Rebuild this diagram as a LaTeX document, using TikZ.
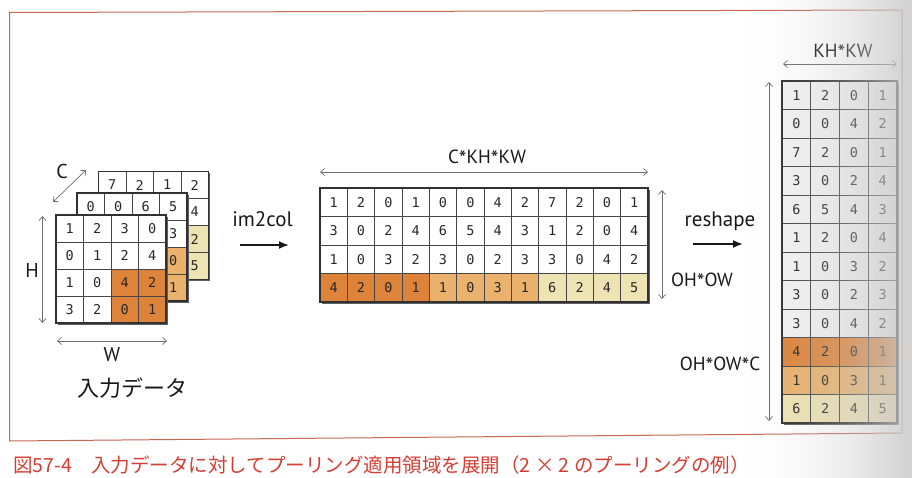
\documentclass[tikz,border=0pt]{standalone}
\usepackage{fontspec}
\setmainfont{PT Sans}
\newfontfamily\monof{DejaVu Sans Mono}
\newfontfamily\jpf{Noto Sans CJK JP}
\usetikzlibrary{arrows.meta,calc}

\definecolor{oa}{RGB}{222,132,58}
\definecolor{ob}{RGB}{234,178,108}
\definecolor{oc}{RGB}{238,227,178}
\definecolor{wc}{RGB}{255,255,255}
\definecolor{rg}{RGB}{242,242,242}
\definecolor{cellline}{RGB}{70,70,70}
\definecolor{digit}{RGB}{40,40,40}
\definecolor{dimc}{RGB}{110,110,110}
\definecolor{framec}{RGB}{196,104,84}
\definecolor{capc}{RGB}{212,62,52}
\definecolor{curl}{RGB}{200,200,200}
\definecolor{shadowc}{RGB}{95,95,95}
\definecolor{labc}{RGB}{25,25,25}

\newcommand\mystar{\raisebox{-0.3ex}{\fontsize{22}{22}\selectfont *}}

% #1 name, #2 x0, #3 y0, #4 ncols, #5 nrows, #6 cell w, #7 cell h, #8 list value/colour
\newcommand\cellgrid[8]{%
  \fill[shadowc] ({#2+1.8},{#3+1.8}) rectangle ++({#4*#6},{#5*#7});
  \foreach \vv/\fc [count=\ci from 0] in {#8}{%
    \pgfmathtruncatemacro\gr{floor(\ci/#4)}%
    \pgfmathtruncatemacro\gk{\ci-\gr*#4}%
    \node[cellbox, fill=\fc, minimum width=#6pt, minimum height=#7pt]
      (#1-\gr-\gk) at ({#2+(\gk+0.5)*#6},{#3+(\gr+0.5)*#7}) {\vv};
  }%
  \draw[outerbox] (#2,#3) rectangle ++({#4*#6},{#5*#7});
}

\begin{document}
\begin{tikzpicture}[x=1pt,y=-1pt,
  cellbox/.style={draw=cellline, line width=0.7pt, inner sep=0pt,
    font=\monof\fontsize{13.5}{13.5}\selectfont, text=digit},
  outerbox/.style={draw=cellline!70!black, line width=1.2pt},
  dimarrow/.style={draw=dimc, line width=0.7pt,
    {Straight Barb[length=4pt,width=7pt]}-{Straight Barb[length=4pt,width=7pt]}},
  bigarrow/.style={draw=labc, line width=1.8pt, -{Latex[length=10pt,width=8pt]}},
  lab/.style={inner sep=0pt, text=labc, font=\fontsize{19}{19}\selectfont},
  oplab/.style={inner sep=0pt, text=labc, font=\fontsize{21}{21}\selectfont},
  jplab/.style={inner sep=0pt, text=labc, font=\jpf\fontsize{22}{22}\selectfont},
  caption/.style={inner sep=0pt, text=capc, font=\jpf\fontsize{19.5}{19.5}\selectfont}
]
\useasboundingbox (0,0) rectangle (912,478);
\clip (0,0) rectangle (912,478);
\fill[white] (0,0) rectangle (912,478);

% frame
\draw[framec, line width=1pt] (9.5,12.5) -- (902,10) -- (902,433) -- (9.5,441) -- cycle;

% ---------- input data stack (hidden cells carry no text) ----------
\cellgrid{bk}{98.5}{171.5}{4}{4}{27.5}{27}{7/wc,2/wc,1/wc,2/wc, /wc,/wc,/wc,4/wc, /wc,/wc,/oc,2/oc, /wc,/wc,/oc,5/oc}
\cellgrid{md}{77}{193}{4}{4}{27.5}{27}{0/wc,0/wc,6/wc,5/wc, /wc,/wc,/wc,3/wc, /wc,/wc,/ob,0/ob, /wc,/wc,/ob,1/ob}
\cellgrid{fr}{56}{215}{4}{4}{27.5}{27}{1/wc,2/wc,3/wc,0/wc, 0/wc,1/wc,2/wc,4/wc, 1/wc,0/wc,4/oa,2/oa, 3/wc,2/wc,0/oa,1/oa}

\coordinate (cA) at (53,202);  \coordinate (cB) at (86,170);
\coordinate (hA) at (42.5,216); \coordinate (hB) at (42.5,323);
\coordinate (wA) at (57,341);  \coordinate (wB) at (167,341);
\draw[dimarrow] (cA) -- (cB);
\draw[dimarrow] (hA) -- (hB);
\draw[dimarrow] (wA) -- (wB);
\node[lab, font=\fontsize{20}{20}\selectfont] (lC) at (62,172) {C};
\node[lab, font=\fontsize{20}{20}\selectfont] (lH) at (32,270) {H};
\node[lab, font=\fontsize{20}{20}\selectfont] (lW) at (112,355) {W};
\node[jplab] (lin) at (132,388) {入力データ};

% ---------- im2col ----------
\node[oplab, anchor=base] (tim) at (262.5,226.7) {im2col};
\coordinate (iA) at (240,245); \coordinate (iB) at (289,245);
\draw[bigarrow] (iA) -- (iB);

\cellgrid{im}{320}{188}{12}{4}{27.33}{28.5}{%
1/wc,2/wc,0/wc,1/wc,0/wc,0/wc,4/wc,2/wc,7/wc,2/wc,0/wc,1/wc,%
3/wc,0/wc,2/wc,4/wc,6/wc,5/wc,4/wc,3/wc,1/wc,2/wc,0/wc,4/wc,%
1/wc,0/wc,3/wc,2/wc,3/wc,0/wc,2/wc,3/wc,3/wc,0/wc,4/wc,2/wc,%
4/oa,2/oa,0/oa,1/oa,1/ob,0/ob,3/ob,1/ob,6/oc,2/oc,4/oc,5/oc}

\coordinate (kA) at (320,172); \coordinate (kB) at (648,172);
\draw[dimarrow] (kA) -- (kB);
\node[lab] (lCKK) at (487,158.5) {C\mystar KH\mystar KW};
\coordinate (oA) at (662,190); \coordinate (oB) at (662,299);
\draw[dimarrow] (oA) -- (oB);
\node[lab] (lOO) at (702,281) {OH\mystar OW};

% ---------- reshape ----------
\node[oplab, anchor=base] (trs) at (720,227) {reshape};
\coordinate (rA) at (693,244); \coordinate (rB) at (743,244);
\draw[bigarrow] (rA) -- (rB);

\cellgrid{rs}{782}{81}{4}{12}{28.75}{28.5}{%
1/rg,2/rg,0/rg,1/rg, 0/rg,0/rg,4/rg,2/rg, 7/rg,2/rg,0/rg,1/rg,%
3/rg,0/rg,2/rg,4/rg, 6/rg,5/rg,4/rg,3/rg, 1/rg,2/rg,0/rg,4/rg,%
1/rg,0/rg,3/rg,2/rg, 3/rg,0/rg,2/rg,3/rg, 3/rg,0/rg,4/rg,2/rg,%
4/oa,2/oa,0/oa,1/oa, 1/ob,0/ob,3/ob,1/ob, 6/oc,2/oc,4/oc,5/oc}

\coordinate (qA) at (783,64); \coordinate (qB) at (897,64);
\draw[dimarrow] (qA) -- (qB);
\node[lab] (lKK) at (843,52.5) {KH\mystar KW};
\coordinate (vA) at (769,82); \coordinate (vB) at (769,421);
\draw[dimarrow] (vA) -- (vB);
\node[lab] (lOOC) at (720,365.5) {OH\mystar OW\mystar C};

% ---------- caption ----------
\node[caption, anchor=base west] (cap) at (13,472) {図57-4　入力データに対してプーリング適用領域を展開（2 × 2 のプーリングの例）};

% ---------- page curl shading ----------
\foreach \xs in {740,742,...,910}{%
  \pgfmathsetmacro\op{min(0.8,0.75*((\xs+1-740)/160)^2)}%
  \fill[curl, opacity=\op] (\xs,0) rectangle (\xs+2.05,478);
}
\end{tikzpicture}
\end{document}
